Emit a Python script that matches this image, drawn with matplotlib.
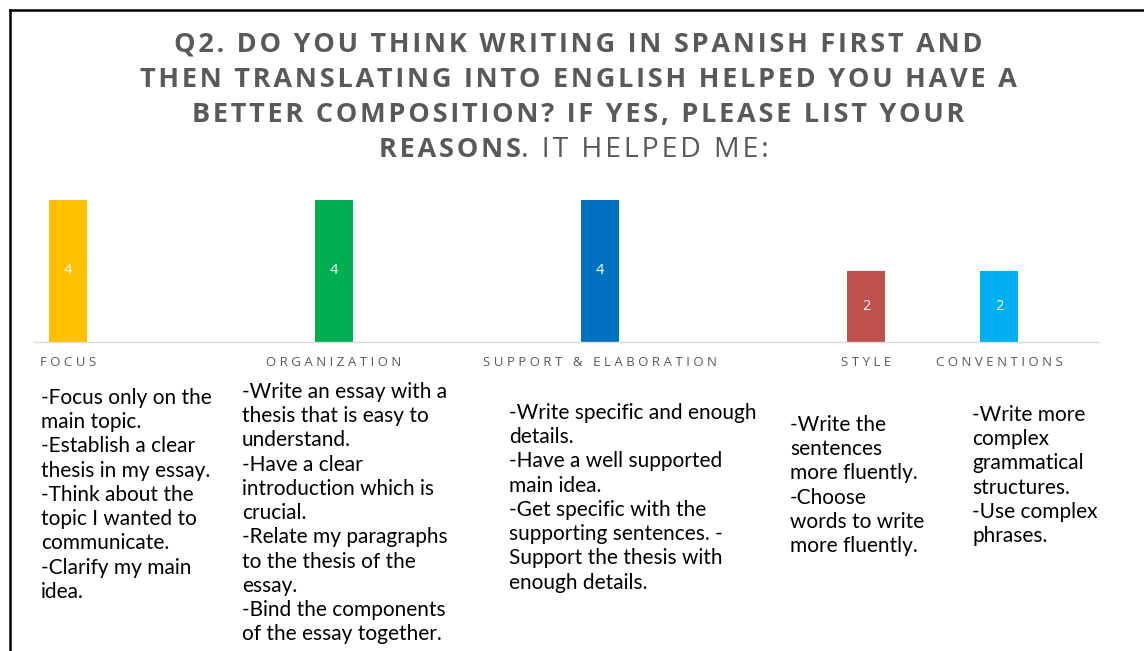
import matplotlib.pyplot as plt
from matplotlib.lines import Line2D

# chart data
categories = ['FOCUS', 'ORGANIZATION', 'SUPPORT & ELABORATION', 'STYLE', 'CONVENTIONS']
counts = [4, 4, 4, 2, 2]
slots = [0, 2, 4, 6, 7]
colors = ['#FFC000', '#00B050', '#0070C0', '#C0504D', '#00B0F0']

title_lines = [
    'Q2. DO YOU THINK WRITING IN SPANISH FIRST AND',
    'THEN TRANSLATING INTO ENGLISH HELPED YOU HAVE A',
    'BETTER COMPOSITION? IF YES, PLEASE LIST YOUR',
]
title_bold_end = 'REASONS'
title_tail = '. IT HELPED ME:'

reasons = [
    "-Focus only on the\nmain topic.\n-Establish a clear\nthesis in my essay.\n-Think about the\n"
    "topic I wanted to\ncommunicate.\n-Clarify my main\nidea.",
    "-Write an essay with a\nthesis that is easy to\nunderstand.\n-Have a clear\nintroduction which is\n"
    "crucial.\n-Relate my paragraphs\nto the thesis of the\nessay.\n-Bind the components\n"
    "of the essay together.",
    "-Write specific and enough\ndetails.\n-Have a well supported\nmain idea.\n-Get specific with the\n"
    "supporting sentences. -\nSupport the thesis with\nenough details.",
    "-Write the\nsentences\nmore fluently.\n-Choose\nwords to write\nmore fluently.",
    "-Write more\ncomplex\ngrammatical\nstructures.\n-Use complex\nphrases.",
]

W, H = 1144, 651
GRAY = '#595959'


def px(x, y):
    return x / W, 1 - y / H


def spaced(s, sep):
    return sep.join(s)


fig = plt.figure(figsize=(W / 100, H / 100), dpi=100)

# frame lines (left and top)
fig.add_artist(Line2D([10 / W, 10 / W], [0, 1 - 10 / H], color='black', lw=1.8,
                      transform=fig.transFigure))
fig.add_artist(Line2D([10 / W, 1], [1 - 10 / H, 1 - 10 / H], color='black', lw=1.8,
                      transform=fig.transFigure))

# title
title_font = dict(family=['Open Sans', 'DejaVu Sans'], color=GRAY)
for i, line in enumerate(title_lines):
    fig.text(*px(578, 45 + i * 35), spaced(line, '\u200a'), ha='center', va='center',
             fontweight='bold', fontsize=19.5, **title_font)
fig.text(*px(521, 150), spaced(title_bold_end, '\u200a'), ha='right', va='center',
         fontweight='bold', fontsize=19.5, **title_font)
fig.text(*px(521, 150), spaced(title_tail, '\u200a'), ha='left', va='center',
         fontweight='normal', fontsize=20.5, **title_font)

# bars
ax = fig.add_axes([34 / W, 1 - 342 / H, (1099 - 34) / W, (342 - 190) / H])
bars = ax.bar(slots, counts, width=0.28, color=colors)
for b, v in zip(bars, counts):
    ax.text(b.get_x() + b.get_width() / 2, v / 2, str(v), ha='center', va='center',
            color='white', fontsize=10.5, family=['Open Sans', 'DejaVu Sans'])

ax.set_xlim(-34 / 133, 1031 / 133)
ax.set_ylim(0, 152 / 35.5)
ax.set_yticks([])
ax.set_xticks(slots)
ax.set_xticklabels([spaced(c, ' ') for c in categories], color=GRAY, fontsize=9.5,
                   family=['Open Sans', 'DejaVu Sans'])
ax.tick_params(axis='x', length=0, pad=10)
for side in ['top', 'right', 'left']:
    ax.spines[side].set_visible(False)
ax.spines['bottom'].set_color('#D9D9D9')
ax.spines['bottom'].set_linewidth(1)

# reasons under each category
text_x = [41, 242, 509, 790, 972]
text_top = [388, 382, 403, 415, 405]
for x, y, r in zip(text_x, text_top, reasons):
    fig.text(*px(x, y), r, ha='left', va='top', fontsize=15, linespacing=1.265,
             family=['Lato', 'DejaVu Sans'], color='black')

fig.savefig('out.png', dpi=100)
